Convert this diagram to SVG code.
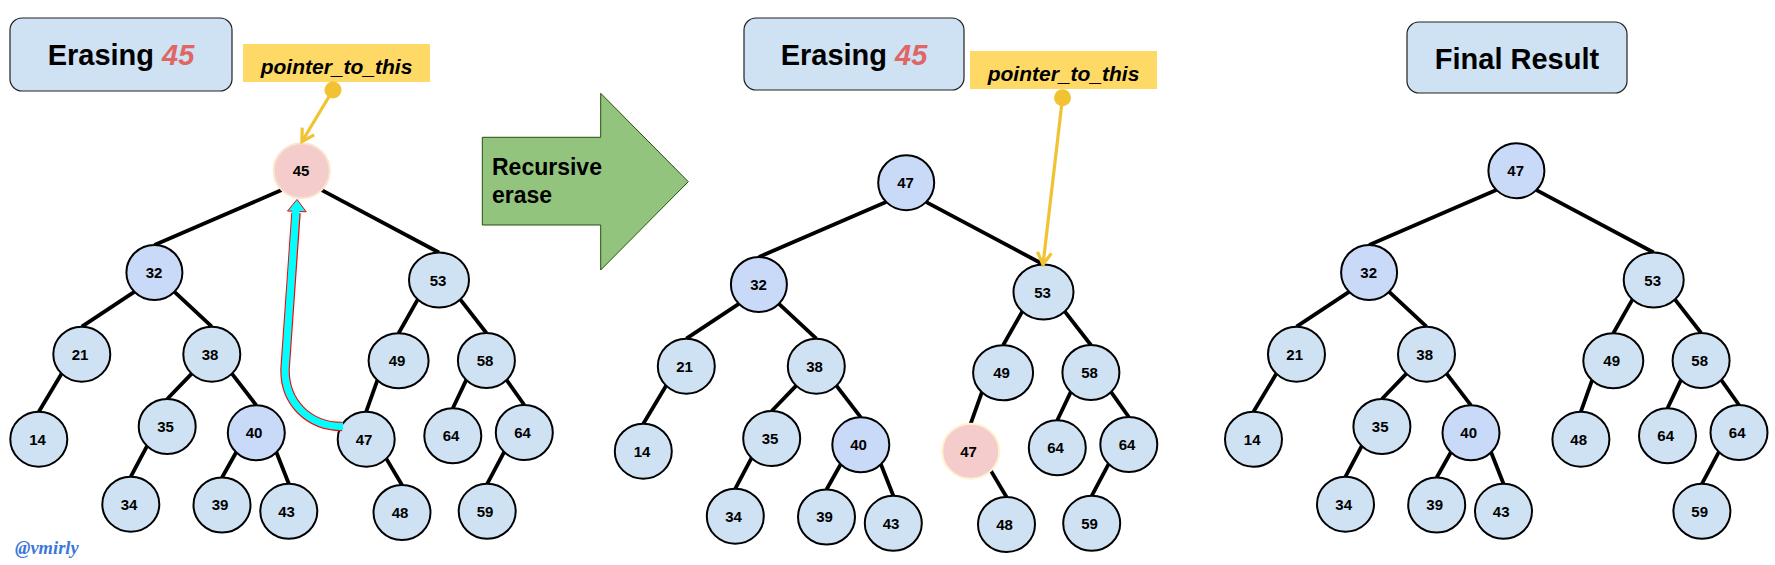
<svg xmlns="http://www.w3.org/2000/svg" width="1775" height="565" viewBox="0 0 1775 565">
<style>
.n{fill:#cfe2f3;stroke:#000;stroke-width:2}
.d{fill:#c9daf8}
.p{fill:#f4cccc;stroke:#fce5cd}
.p2{fill:#f4cccc;stroke:#fff2cc}
.t{font-family:"Liberation Sans",Arial,sans-serif;font-weight:bold;font-size:15px;text-anchor:middle;fill:#000}
.e line{stroke:#000;stroke-width:3.8}
.title{fill:#cfe2f3;stroke:#222;stroke-width:1.2}
.tt{font-family:"Liberation Sans",Arial,sans-serif;font-weight:bold;font-size:29px;text-anchor:middle;fill:#000}
.red{fill:#e06666;font-style:italic}
.ptr{fill:#ffd966}
.pt{font-family:"Liberation Sans",Arial,sans-serif;font-weight:bold;font-style:italic;font-size:21px;text-anchor:middle;fill:#000}
.ya{stroke:#f1c232;stroke-width:3.2;fill:none}
</style>
<defs>
<marker id="yarrow" viewBox="-15 -10 18 20" markerWidth="18" markerHeight="20" refX="0" refY="0" orient="auto" markerUnits="userSpaceOnUse">
<path d="M-12,-7 L0,0 L-12,7" fill="none" stroke="#f1c232" stroke-width="3.2"/>
</marker>
</defs>
<rect width="1775" height="565" fill="#fff"/>

<!-- Titles -->
<g id="title-left">
<rect class="title" x="10" y="18" width="222" height="73" rx="12"/>
<text class="tt" x="121" y="65">Erasing <tspan class="red">45</tspan></text>
</g>
<g id="title-middle">
<rect class="title" x="744" y="18" width="220" height="72" rx="12"/>
<text class="tt" x="854" y="65">Erasing <tspan class="red">45</tspan></text>
</g>
<g id="title-right">
<rect class="title" x="1407" y="22" width="220" height="71" rx="12"/>
<text class="tt" x="1517" y="69">Final Result</text>
</g>

<!-- Pointer labels -->
<g id="pointer-left">
<rect class="ptr" x="243" y="44" width="187" height="38"/>
<text class="pt" x="336.5" y="74">pointer_to_this</text>
</g>
<g id="pointer-middle">
<rect class="ptr" x="970" y="51" width="187" height="38"/>
<text class="pt" x="1063.5" y="81">pointer_to_this</text>
</g>

<!-- Green arrow -->
<g id="recursive-erase">
<polygon points="482.3,137.3 600.7,137.3 600.7,93.3 688.3,181.7 600.7,270 600.7,225 482.3,225" fill="#93c47d" stroke="#274e13" stroke-width="1"/>
<text font-family="'Liberation Sans',Arial,sans-serif" font-weight="bold" font-size="23" fill="#000"><tspan x="492" y="175">Recursive</tspan><tspan x="492" y="203">erase</tspan></text>
</g>

<!-- Left tree -->
<g id="tree-left">
<g id="left-connectors" class="e">
<line x1="281.6" y1="190.1" x2="154.4" y2="245"/>
<line x1="321.8" y1="190.1" x2="439" y2="252.5"/>
<line x1="134.3" y1="291.9" x2="81.8" y2="326.7"/>
<line x1="174.5" y1="291.9" x2="211.8" y2="326.7"/>
<line x1="417.8" y1="299.4" x2="398.6" y2="333.3"/>
<line x1="460.2" y1="299.4" x2="486.4" y2="333"/>
<line x1="61.7" y1="373.6" x2="38.8" y2="411.7"/>
<line x1="191.7" y1="373.6" x2="167.2" y2="399"/>
<line x1="231.9" y1="373.6" x2="256.3" y2="405.3"/>
<line x1="377.4" y1="380.2" x2="366.2" y2="411.7"/>
<line x1="466.3" y1="379.9" x2="452.8" y2="408.3"/>
<line x1="506.5" y1="379.9" x2="524.3" y2="405"/>
<line x1="147.1" y1="445.9" x2="130.8" y2="476.7"/>
<line x1="236.2" y1="452.2" x2="222" y2="477.5"/>
<line x1="276.4" y1="452.2" x2="288.8" y2="483.8"/>
<line x1="386.3" y1="458.6" x2="402" y2="485"/>
<line x1="504.2" y1="451.9" x2="487.2" y2="483.8"/>
</g>
<g id="L45"><ellipse class="n p" cx="301.7" cy="170.7" rx="28" ry="27.5"/><text class="t" x="301" y="176">45</text></g>
<g id="L32"><ellipse class="n d" cx="154.4" cy="272.5" rx="28" ry="27.5"/><text class="t" x="154" y="278">32</text></g>
<g id="L53"><ellipse class="n" cx="439" cy="280" rx="30" ry="27.5"/><text class="t" x="438" y="285.5">53</text></g>
<g id="L21"><ellipse class="n" cx="81.8" cy="354.2" rx="28.5" ry="27.5"/><text class="t" x="80" y="359.5">21</text></g>
<g id="L38"><ellipse class="n" cx="211.8" cy="354.2" rx="28.5" ry="27.5"/><text class="t" x="210" y="359.5">38</text></g>
<g id="L49"><ellipse class="n" cx="398.6" cy="360.8" rx="30" ry="27.5"/><text class="t" x="397" y="366">49</text></g>
<g id="L58"><ellipse class="n" cx="486.4" cy="360.5" rx="28.5" ry="27.5"/><text class="t" x="485" y="366">58</text></g>
<g id="L14"><ellipse class="n" cx="38.8" cy="439.2" rx="28.5" ry="27.5"/><text class="t" x="37.5" y="444.5">14</text></g>
<g id="L35"><ellipse class="n" cx="167.2" cy="426.5" rx="28.5" ry="27.5"/><text class="t" x="165.5" y="432">35</text></g>
<g id="L40"><ellipse class="n d" cx="256.3" cy="432.8" rx="28.5" ry="27.5"/><text class="t" x="254" y="438">40</text></g>
<g id="L47"><ellipse class="n" cx="366.2" cy="439.2" rx="28.5" ry="27.5"/><text class="t" x="364" y="444.5">47</text></g>
<g id="L64a"><ellipse class="n" cx="452.8" cy="435.8" rx="28.5" ry="27.5"/><text class="t" x="451" y="441">64</text></g>
<g id="L64b"><ellipse class="n" cx="524.3" cy="432.5" rx="28.5" ry="27.5"/><text class="t" x="522.5" y="437.5">64</text></g>
<g id="L34"><ellipse class="n" cx="130.8" cy="504.2" rx="28.5" ry="27.5"/><text class="t" x="129" y="509.5">34</text></g>
<g id="L39"><ellipse class="n" cx="222" cy="505" rx="28.5" ry="27.5"/><text class="t" x="220" y="510">39</text></g>
<g id="L43"><ellipse class="n" cx="288.8" cy="511.3" rx="28.5" ry="27.5"/><text class="t" x="286.5" y="516.5">43</text></g>
<g id="L48"><ellipse class="n" cx="402" cy="512.5" rx="28.5" ry="27.5"/><text class="t" x="400" y="518">48</text></g>
<g id="L59"><ellipse class="n" cx="487.2" cy="511.3" rx="28.5" ry="27.5"/><text class="t" x="485" y="516.5">59</text></g>
</g>

<!-- Middle tree -->
<g id="tree-middle" transform="translate(604.5,12)">
<g id="middle-connectors" class="e">
<line x1="281.6" y1="190.1" x2="154.4" y2="245"/>
<line x1="321.8" y1="190.1" x2="439" y2="252.5"/>
<line x1="134.3" y1="291.9" x2="81.8" y2="326.7"/>
<line x1="174.5" y1="291.9" x2="211.8" y2="326.7"/>
<line x1="417.8" y1="299.4" x2="398.6" y2="333.3"/>
<line x1="460.2" y1="299.4" x2="486.4" y2="333"/>
<line x1="61.7" y1="373.6" x2="38.8" y2="411.7"/>
<line x1="191.7" y1="373.6" x2="167.2" y2="399"/>
<line x1="231.9" y1="373.6" x2="256.3" y2="405.3"/>
<line x1="377.4" y1="380.2" x2="366.2" y2="411.7"/>
<line x1="466.3" y1="379.9" x2="452.8" y2="408.3"/>
<line x1="506.5" y1="379.9" x2="524.3" y2="405"/>
<line x1="147.1" y1="445.9" x2="130.8" y2="476.7"/>
<line x1="236.2" y1="452.2" x2="222" y2="477.5"/>
<line x1="276.4" y1="452.2" x2="288.8" y2="483.8"/>
<line x1="386.3" y1="458.6" x2="402" y2="485"/>
<line x1="504.2" y1="451.9" x2="487.2" y2="483.8"/>
</g>
<g id="M47root"><ellipse class="n d" cx="301.7" cy="170.7" rx="28" ry="27.5"/><text class="t" x="301" y="176">47</text></g>
<g id="M32"><ellipse class="n d" cx="154.4" cy="272.5" rx="28" ry="27.5"/><text class="t" x="154" y="278">32</text></g>
<g id="M53"><ellipse class="n" cx="439" cy="280" rx="30" ry="27.5"/><text class="t" x="438" y="285.5">53</text></g>
<g id="M21"><ellipse class="n" cx="81.8" cy="354.2" rx="28.5" ry="27.5"/><text class="t" x="80" y="359.5">21</text></g>
<g id="M38"><ellipse class="n" cx="211.8" cy="354.2" rx="28.5" ry="27.5"/><text class="t" x="210" y="359.5">38</text></g>
<g id="M49"><ellipse class="n" cx="398.6" cy="360.8" rx="30" ry="27.5"/><text class="t" x="397" y="366">49</text></g>
<g id="M58"><ellipse class="n" cx="486.4" cy="360.5" rx="28.5" ry="27.5"/><text class="t" x="485" y="366">58</text></g>
<g id="M14"><ellipse class="n" cx="38.8" cy="439.2" rx="28.5" ry="27.5"/><text class="t" x="37.5" y="444.5">14</text></g>
<g id="M35"><ellipse class="n" cx="167.2" cy="426.5" rx="28.5" ry="27.5"/><text class="t" x="165.5" y="432">35</text></g>
<g id="M40"><ellipse class="n d" cx="256.3" cy="432.8" rx="28.5" ry="27.5"/><text class="t" x="254" y="438">40</text></g>
<g id="M47"><ellipse class="n p2" cx="366.2" cy="439.2" rx="28.5" ry="27.5"/><text class="t" x="364" y="444.5">47</text></g>
<g id="M64a"><ellipse class="n" cx="452.8" cy="435.8" rx="28.5" ry="27.5"/><text class="t" x="451" y="441">64</text></g>
<g id="M64b"><ellipse class="n" cx="524.3" cy="432.5" rx="28.5" ry="27.5"/><text class="t" x="522.5" y="437.5">64</text></g>
<g id="M34"><ellipse class="n" cx="130.8" cy="504.2" rx="28.5" ry="27.5"/><text class="t" x="129" y="509.5">34</text></g>
<g id="M39"><ellipse class="n" cx="222" cy="505" rx="28.5" ry="27.5"/><text class="t" x="220" y="510">39</text></g>
<g id="M43"><ellipse class="n" cx="288.8" cy="511.3" rx="28.5" ry="27.5"/><text class="t" x="286.5" y="516.5">43</text></g>
<g id="M48"><ellipse class="n" cx="402" cy="512.5" rx="28.5" ry="27.5"/><text class="t" x="400" y="518">48</text></g>
<g id="M59"><ellipse class="n" cx="487.2" cy="511.3" rx="28.5" ry="27.5"/><text class="t" x="485" y="516.5">59</text></g>
</g>

<!-- Right tree -->
<g id="tree-right" transform="translate(1214.7,0)">
<g id="right-connectors" class="e">
<line x1="281.6" y1="190.1" x2="154.4" y2="245"/>
<line x1="321.8" y1="190.1" x2="439" y2="252.5"/>
<line x1="134.3" y1="291.9" x2="81.8" y2="326.7"/>
<line x1="174.5" y1="291.9" x2="211.8" y2="326.7"/>
<line x1="417.8" y1="299.4" x2="398.6" y2="333.3"/>
<line x1="460.2" y1="299.4" x2="486.4" y2="333"/>
<line x1="61.7" y1="373.6" x2="38.8" y2="411.7"/>
<line x1="191.7" y1="373.6" x2="167.2" y2="399"/>
<line x1="231.9" y1="373.6" x2="256.3" y2="405.3"/>
<line x1="377.4" y1="380.2" x2="366.2" y2="411.7"/>
<line x1="466.3" y1="379.9" x2="452.8" y2="408.3"/>
<line x1="506.5" y1="379.9" x2="524.3" y2="405"/>
<line x1="147.1" y1="445.9" x2="130.8" y2="476.7"/>
<line x1="236.2" y1="452.2" x2="222" y2="477.5"/>
<line x1="276.4" y1="452.2" x2="288.8" y2="483.8"/>
<line x1="504.2" y1="451.9" x2="487.2" y2="483.8"/>
</g>
<g id="R47"><ellipse class="n d" cx="301.7" cy="170.7" rx="28" ry="27.5"/><text class="t" x="301" y="176">47</text></g>
<g id="R32"><ellipse class="n d" cx="154.4" cy="272.5" rx="28" ry="27.5"/><text class="t" x="154" y="278">32</text></g>
<g id="R53"><ellipse class="n" cx="439" cy="280" rx="30" ry="27.5"/><text class="t" x="438" y="285.5">53</text></g>
<g id="R21"><ellipse class="n" cx="81.8" cy="354.2" rx="28.5" ry="27.5"/><text class="t" x="80" y="359.5">21</text></g>
<g id="R38"><ellipse class="n" cx="211.8" cy="354.2" rx="28.5" ry="27.5"/><text class="t" x="210" y="359.5">38</text></g>
<g id="R49"><ellipse class="n" cx="398.6" cy="360.8" rx="30" ry="27.5"/><text class="t" x="397" y="366">49</text></g>
<g id="R58"><ellipse class="n" cx="486.4" cy="360.5" rx="28.5" ry="27.5"/><text class="t" x="485" y="366">58</text></g>
<g id="R14"><ellipse class="n" cx="38.8" cy="439.2" rx="28.5" ry="27.5"/><text class="t" x="37.5" y="444.5">14</text></g>
<g id="R35"><ellipse class="n" cx="167.2" cy="426.5" rx="28.5" ry="27.5"/><text class="t" x="165.5" y="432">35</text></g>
<g id="R40"><ellipse class="n d" cx="256.3" cy="432.8" rx="28.5" ry="27.5"/><text class="t" x="254" y="438">40</text></g>
<g id="R48"><ellipse class="n" cx="366.2" cy="439.2" rx="28.5" ry="27.5"/><text class="t" x="364" y="444.5">48</text></g>
<g id="R64a"><ellipse class="n" cx="452.8" cy="435.8" rx="28.5" ry="27.5"/><text class="t" x="451" y="441">64</text></g>
<g id="R64b"><ellipse class="n" cx="524.3" cy="432.5" rx="28.5" ry="27.5"/><text class="t" x="522.5" y="437.5">64</text></g>
<g id="R34"><ellipse class="n" cx="130.8" cy="504.2" rx="28.5" ry="27.5"/><text class="t" x="129" y="509.5">34</text></g>
<g id="R39"><ellipse class="n" cx="222" cy="505" rx="28.5" ry="27.5"/><text class="t" x="220" y="510">39</text></g>
<g id="R43"><ellipse class="n" cx="288.8" cy="511.3" rx="28.5" ry="27.5"/><text class="t" x="286.5" y="516.5">43</text></g>
<g id="R59"><ellipse class="n" cx="487.2" cy="511.3" rx="28.5" ry="27.5"/><text class="t" x="485" y="516.5">59</text></g>
</g>

<!-- Pointer arrows -->
<g id="pointer-arrows">
<line class="ya" x1="333" y1="90" x2="302" y2="141.5" marker-end="url(#yarrow)"/>
<circle cx="333" cy="90" r="8.5" fill="#f1c232"/>
<line class="ya" x1="1062.5" y1="98" x2="1043" y2="264.5" marker-end="url(#yarrow)"/>
<circle cx="1062.5" cy="97.7" r="8.5" fill="#f1c232"/>
</g>

<!-- Cyan move arrow -->
<g id="move-arrow">
<path d="M 342 426.5 C 308 426.5, 285 402, 285 370 L 296 213" fill="none" stroke="#ff0000" stroke-width="9.5"/>
<polygon points="297,199.5 306.2,211.8 287.5,211" fill="#00ffff" stroke="#ff0000" stroke-width="1"/>
<path d="M 343 426.5 C 308 426.5, 285 402, 285 370 L 296.2 208" fill="none" stroke="#00ffff" stroke-width="7.3"/>
</g>

<text id="watermark" x="15" y="554" font-family="'Liberation Serif','Times New Roman',serif" font-weight="bold" font-style="italic" font-size="18.5" fill="#3c78d8">@vmirly</text>
</svg>
